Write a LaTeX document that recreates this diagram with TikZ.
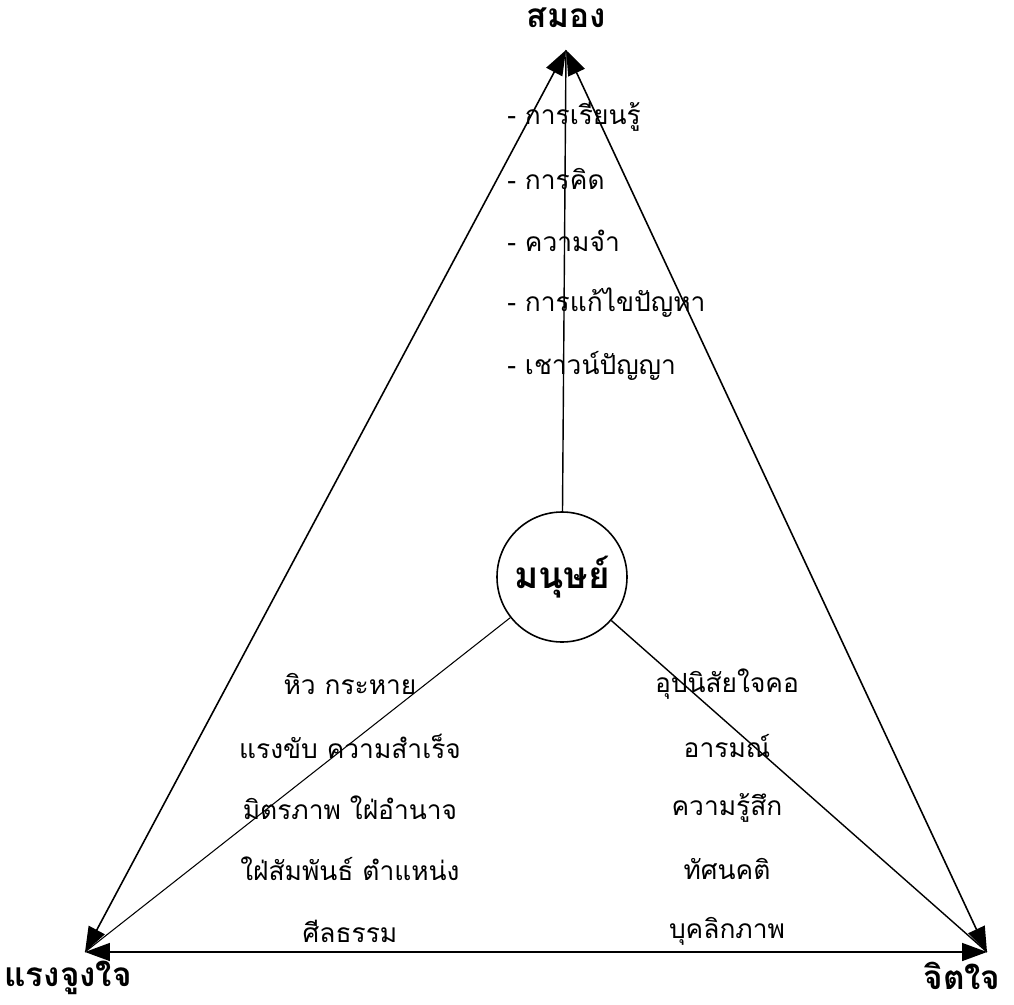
\documentclass[tikz,border=0pt]{standalone}
\usepackage{fontspec}
\usetikzlibrary{arrows.meta}
\newfontfamily\thaifont[Script=Thai]{Loma}
\begin{document}
\begin{tikzpicture}[x=0.02cm,y=-0.02cm,
  font=\thaifont\fontsize{15}{18}\selectfont,
  dtip/.style={{Triangle[length=5mm,width=3.6mm]}-{Triangle[length=5mm,width=3.6mm]}},
  conn/.style={line width=0.9pt},
  vlabel/.style={font=\thaifont\bfseries\fontsize{19}{21}\selectfont,inner sep=0pt},
  item/.style={anchor=west,inner sep=0pt},
  citem/.style={inner sep=0pt}]
\useasboundingbox (0,0) rectangle (1014,1004);
\coordinate (T) at (566,50);
\coordinate (L) at (85,952);
\coordinate (R) at (987,952);
\node[draw,circle,line width=0.9pt,minimum size=130*0.02cm,inner sep=0pt,font=\thaifont\bfseries\fontsize{21}{24}\selectfont] (C) at (562,577) {มนุษย์};
\node[vlabel] (lt) at (566,18) {สมอง};
\node[vlabel] (ll) at (68,978) {แรงจูงใจ};
\node[vlabel] (lr) at (962,976) {จิตใจ};
\draw[conn,dtip] (L) -- (T);
\draw[conn,dtip] (T) -- (R);
\draw[conn,dtip] (L) -- (R);
\draw[line width=0.8pt] (C) -- (T);
\draw[line width=0.6pt] (C) -- (L);
\draw[line width=0.8pt] (C) -- (R);
\node[item] (a1) at (507,117) {- การเรียนรู้};
\node[item] (a2) at (507,179) {- การคิด};
\node[item] (a3) at (507,241) {- ความจำ};
\node[item] (a4) at (507,303) {- การแก้ไขปัญหา};
\node[item] (a5) at (507,366) {- เชาวน์ปัญญา};
\node[citem] (b1) at (350,684) {หิว กระหาย};
\node[citem] (b2) at (350,746) {แรงขับ ความสำเร็จ};
\node[citem] (b3) at (350,808) {มิตรภาพ ใฝ่อำนาจ};
\node[citem] (b4) at (350,869) {ใฝ่สัมพันธ์ ตำแหน่ง};
\node[citem] (b5) at (350,931) {ศีลธรรม};
\node[citem] (c1) at (727,684) {อุปนิสัยใจคอ};
\node[citem] (c2) at (727,746) {อารมณ์};
\node[citem] (c3) at (727,808) {ความรู้สึก};
\node[citem] (c4) at (727,869) {ทัศนคติ};
\node[citem] (c5) at (727,931) {บุคลิกภาพ};
\end{tikzpicture}
\end{document}
